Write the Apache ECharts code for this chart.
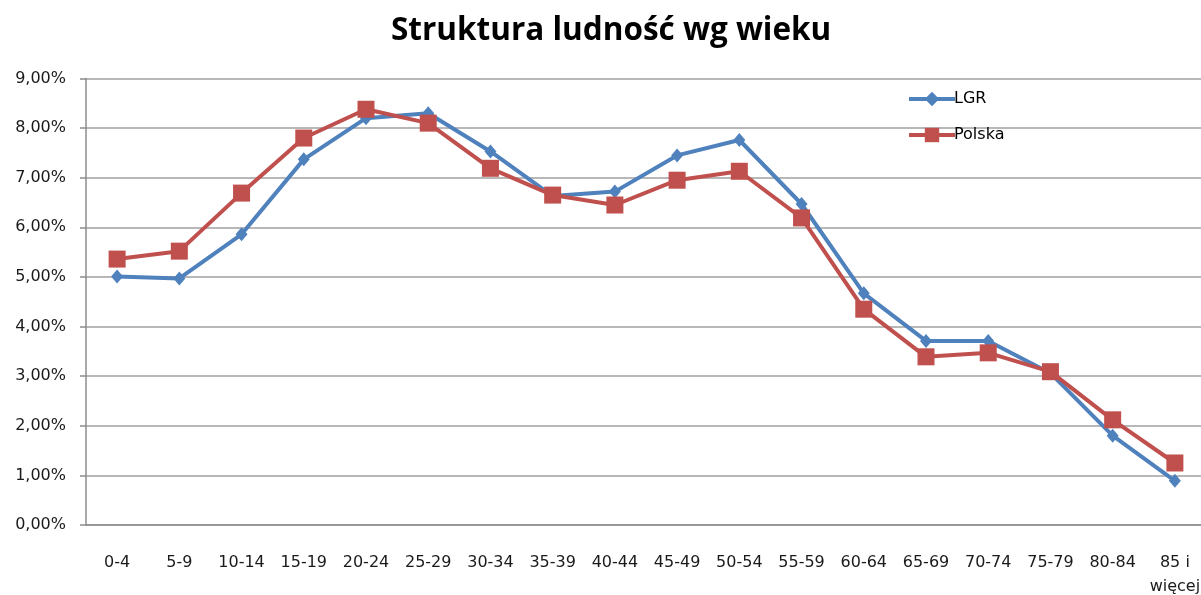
<!DOCTYPE html>
<html>
<head>
<meta charset="utf-8">
<script src="https://cdn.jsdelivr.net/npm/echarts@6/dist/echarts.min.js"></script>
<style>
  html, body { margin: 0; padding: 0; background: #fff; }
  #chart { width: 1201px; height: 595px; }
</style>
</head>
<body>
<div id="chart"></div>
<script>
// grupy wiekowe
const categories = ['0-4', '5-9', '10-14', '15-19', '20-24', '25-29', '30-34', '35-39', '40-44',
  '45-49', '50-54', '55-59', '60-64', '65-69', '70-74', '75-79', '80-84', '85 i\nwięcej']

// udział procentowy
const lgr = [5.01, 4.97, 5.86, 7.37, 8.20, 8.30, 7.53, 6.63, 6.72, 7.45, 7.76, 6.47, 4.67, 3.71, 3.71, 3.06, 1.80, 0.89]
const polska = [5.36, 5.52, 6.69, 7.80, 8.38, 8.10, 7.19, 6.65, 6.45, 6.95, 7.13, 6.19, 4.35, 3.39, 3.47, 3.09, 2.12, 1.25]

const chart = echarts.init(document.getElementById('chart'))

const labelFont = 'DejaVu Sans, Verdana, sans-serif'

chart.setOption({
  animation: false,
  title: {
    text: 'Struktura ludność wg wieku',
    left: 386,
    top: 10,
    textStyle: { fontFamily: 'Open Sans', fontWeight: 'bold', fontSize: 31.5, color: '#000' }
  },
  legend: {
    orient: 'vertical',
    left: 902,
    top: 86,
    itemWidth: 46,
    itemHeight: 18,
    itemGap: 20,
    lineStyle: { width: 4 },
    textStyle: { fontFamily: labelFont, fontSize: 16, color: '#000', padding: [0, 0, 0, -6] },
    data: ['LGR', 'Polska']
  },
  grid: { left: 86, top: 78.5, width: 1120, height: 446.5, outerBoundsMode: 'none' },
  xAxis: {
    type: 'category',
    data: categories,
    boundaryGap: true,
    axisLine: { lineStyle: { color: '#8c8c8c', width: 1.5 } },
    axisTick: { length: 6, lineStyle: { color: '#8c8c8c', width: 1.5 } },
    axisLabel: {
      interval: 0, margin: 26, fontFamily: labelFont, fontSize: 16, color: '#1a1a1a', lineHeight: 24
    }
  },
  yAxis: {
    type: 'value',
    min: 0,
    max: 9,
    interval: 1,
    axisLine: { show: true, lineStyle: { color: '#8c8c8c', width: 1.5 } },
    axisTick: { show: true, length: 6, lineStyle: { color: '#8c8c8c', width: 1.5 } },
    splitLine: { lineStyle: { color: '#a0a0a0', width: 1.5 } },
    axisLabel: {
      margin: 20,
      fontFamily: labelFont, fontSize: 16, color: '#1a1a1a',
      formatter: v => v.toFixed(2).replace('.', ',') + '%'
    }
  },
  series: [
    {
      name: 'LGR',
      type: 'line',
      data: lgr,
      symbol: 'diamond',
      symbolSize: [12, 14],
      lineStyle: { color: '#4F81BD', width: 4 },
      itemStyle: { color: '#4F81BD' }
    },
    {
      name: 'Polska',
      type: 'line',
      data: polska,
      symbol: 'rect',
      symbolSize: 17,
      lineStyle: { color: '#C0504D', width: 4 },
      itemStyle: { color: '#C0504D' }
    }
  ]
})
</script>
</body>
</html>
